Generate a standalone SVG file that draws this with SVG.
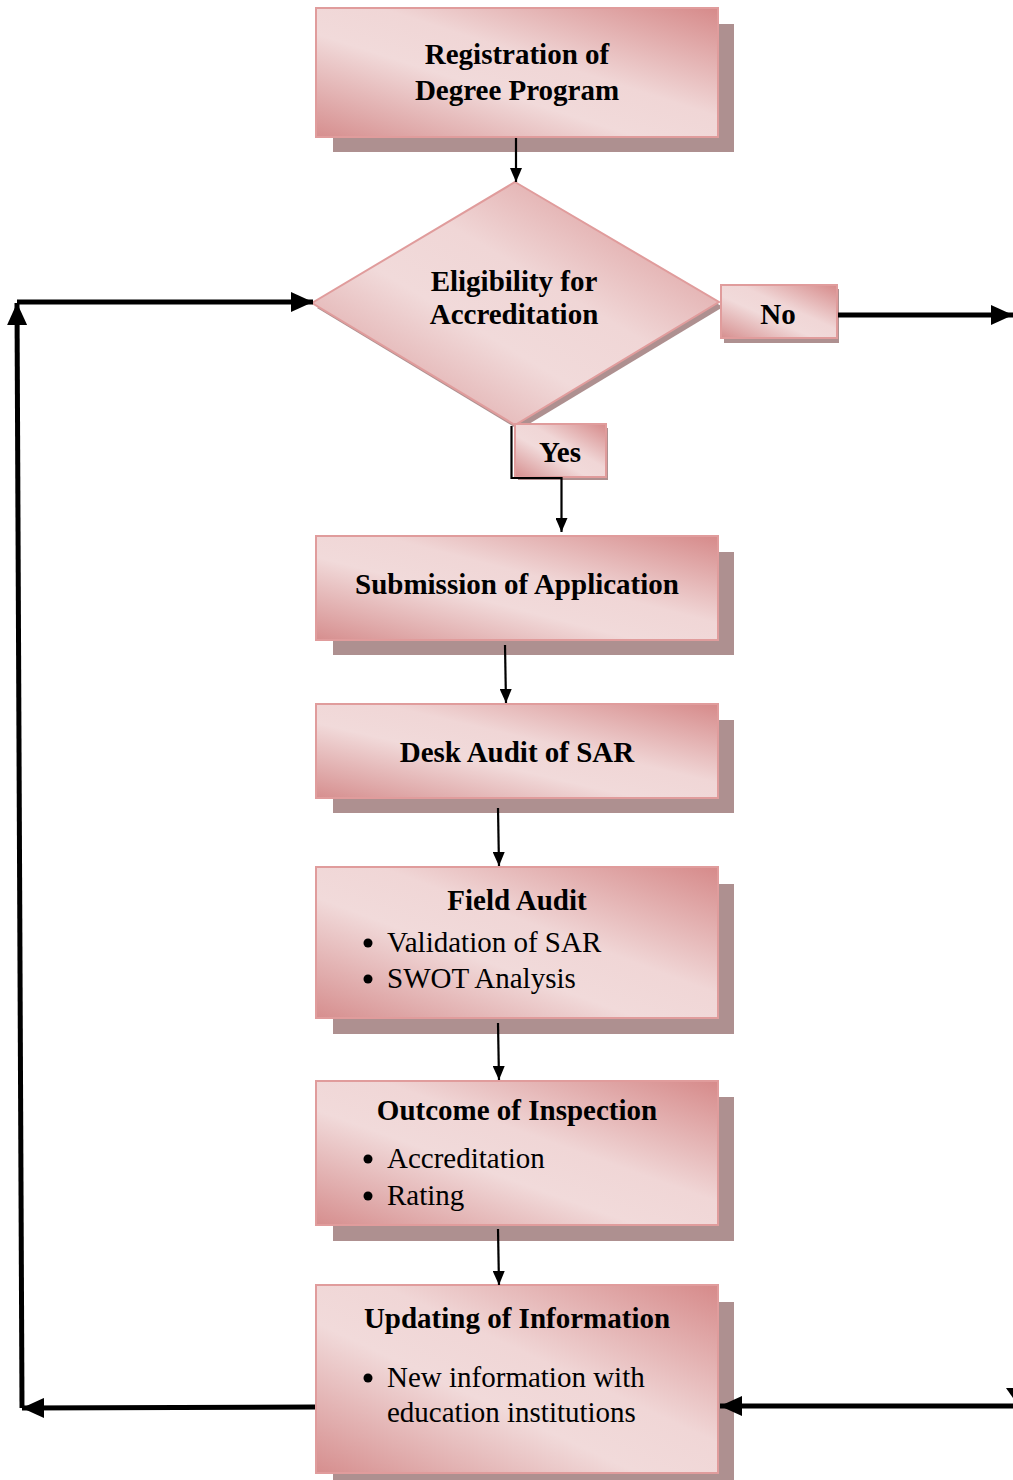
<svg xmlns="http://www.w3.org/2000/svg" width="1013" height="1480" viewBox="0 0 1013 1480">
<style>
.shadow{fill:#AE9090}
.box{fill:url(#pink);stroke:#E09C9C;stroke-width:2}
.t{font-family:"Liberation Serif","Times New Roman",serif;font-size:29px;fill:#000}
.b{font-weight:bold;text-anchor:middle}
.thin{fill:none;stroke:#000;stroke-width:2.2;marker-end:url(#ah)}
.thick{fill:none;stroke:#000;stroke-width:5;marker-end:url(#ahb)}
</style>
<defs>
<linearGradient id="pink" x1="1" y1="0" x2="0" y2="1">
<stop offset="0" stop-color="#D68A8A"/>
<stop offset="0.42" stop-color="#F0D6D6"/>
<stop offset="0.6" stop-color="#F1DADA"/>
<stop offset="0.85" stop-color="#E0ABAB"/>
<stop offset="1" stop-color="#D68E8E"/>
</linearGradient>
<marker id="ah" markerUnits="userSpaceOnUse" markerWidth="14" markerHeight="12" refX="14" refY="6" orient="auto">
<path d="M0,0 L14,6 L0,12 z" fill="#000"/>
</marker>
<marker id="ahb" markerUnits="userSpaceOnUse" markerWidth="22" markerHeight="20" refX="22" refY="10" orient="auto">
<path d="M0,0 L22,10 L0,20 z" fill="#000"/>
</marker>
</defs>

<g id="registration">
<rect class="shadow" x="333" y="24" width="401" height="128"/>
<rect class="box" x="316" y="8" width="402" height="129"/>
<text class="t b" x="517" y="64">Registration of</text>
<text class="t b" x="517" y="100">Degree Program</text>
</g>

<g id="eligibility">
<polygon class="shadow" points="519,187 723,307 519,430 317,308"/>
<polygon class="box" points="515,182 719,302 515,425 312,303"/>
<text class="t b" x="514" y="291">Eligibility for</text>
<text class="t b" x="514" y="324">Accreditation</text>
</g>

<g id="no">
<rect class="shadow" x="724" y="289" width="115" height="54"/>
<rect class="box" x="721" y="285" width="116" height="53"/>
<text class="t b" x="778" y="324">No</text>
</g>

<g id="yes">
<rect class="shadow" x="518" y="428" width="90" height="52"/>
<rect class="box" x="515" y="424" width="91" height="53"/>
<text class="t b" x="560" y="462">Yes</text>
</g>

<g id="submission">
<rect class="shadow" x="333" y="552" width="401" height="103"/>
<rect class="box" x="316" y="536" width="402" height="104"/>
<text class="t b" x="517" y="594">Submission of Application</text>
</g>

<g id="desk-audit">
<rect class="shadow" x="333" y="720" width="401" height="93"/>
<rect class="box" x="316" y="704" width="402" height="94"/>
<text class="t b" x="517" y="762">Desk Audit of SAR</text>
</g>

<g id="field-audit">
<rect class="shadow" x="333" y="884" width="401" height="150"/>
<rect class="box" x="316" y="867" width="402" height="151"/>
<text class="t b" x="517" y="910">Field Audit</text>
<circle cx="368" cy="943" r="4.5"/>
<text class="t" x="387" y="952">Validation of SAR</text>
<circle cx="368" cy="979" r="4.5"/>
<text class="t" x="387" y="988">SWOT Analysis</text>
</g>

<g id="outcome">
<rect class="shadow" x="333" y="1097" width="401" height="144"/>
<rect class="box" x="316" y="1081" width="402" height="144"/>
<text class="t b" x="517" y="1120">Outcome of Inspection</text>
<circle cx="368" cy="1159" r="4.5"/>
<text class="t" x="387" y="1168">Accreditation</text>
<circle cx="368" cy="1196" r="4.5"/>
<text class="t" x="387" y="1205">Rating</text>
</g>

<g id="updating">
<rect class="shadow" x="333" y="1302" width="401" height="190"/>
<rect class="box" x="316" y="1285" width="402" height="188"/>
<text class="t b" x="517" y="1328">Updating of Information</text>
<circle cx="368" cy="1378" r="4.5"/>
<text class="t" x="387" y="1387">New information with</text>
<text class="t" x="387" y="1422">education institutions</text>
</g>

<g id="connectors">
<path class="thin" d="M516,138 L516,182"/>
<path class="thin" d="M511.5,426 L511.5,478 L561.5,478 L561.5,532"/>
<path class="thin" d="M505,645 L506,703"/>
<path class="thin" d="M498,808 L499,866"/>
<path class="thin" d="M498,1023 L499,1080"/>
<path class="thin" d="M498,1229 L499,1285"/>
<path class="thick" d="M838,315 L1013,315"/>
<path class="thick" d="M315,1407 L22,1408"/>
<path class="thick" d="M22,1408 L17,303"/>
<path class="thick" d="M17,302 L313,302"/>
<path class="thick" d="M1013,1406 L720,1406"/>
<polygon points="1006,1388 1013,1388 1013,1398" fill="#000"/>
</g>
</svg>
